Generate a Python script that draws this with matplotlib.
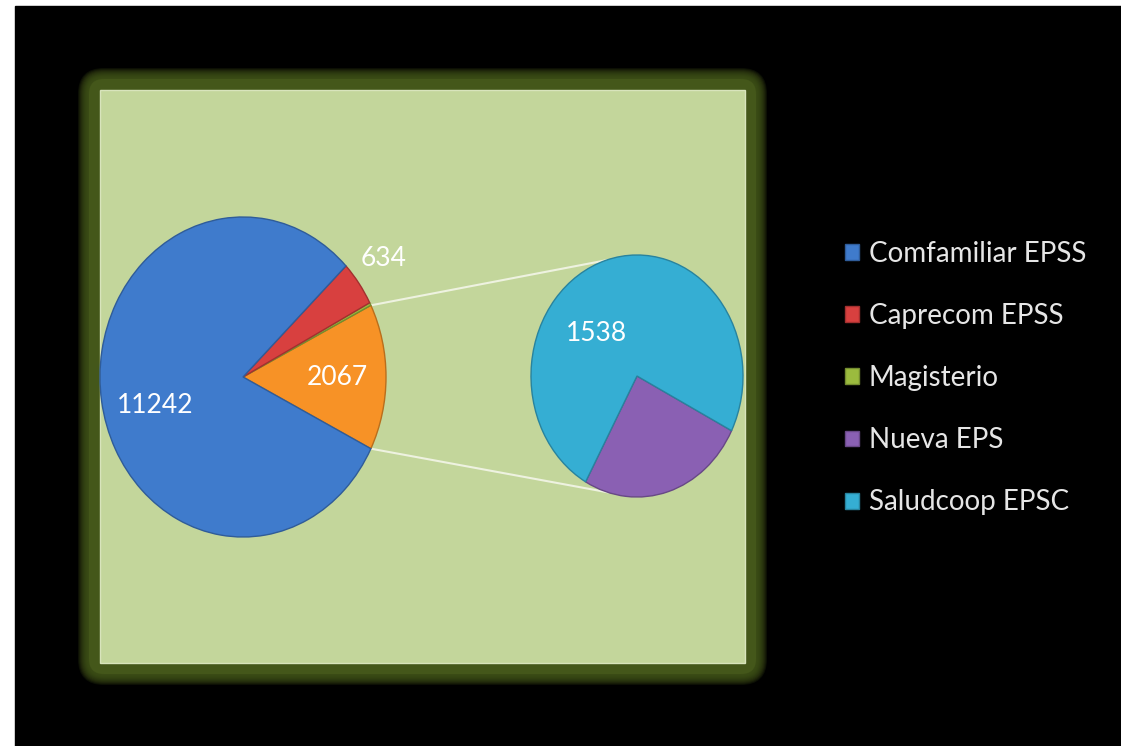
import numpy as np
import matplotlib.pyplot as plt
from matplotlib.patches import FancyBboxPatch, Rectangle, Patch

# data
main_labels = ["Comfamiliar EPSS", "Caprecom EPSS", "Magisterio"]
main_values = [11242, 634, 40]
sub_labels = ["Nueva EPS", "Saludcoop EPSC"]
sub_values = [529, 1538]
other_value = sum(sub_values)  # 2067

colors = {
    "Comfamiliar EPSS": "#3f7bcc",
    "Caprecom EPSS": "#d8403f",
    "Magisterio": "#9bbb3e",
    "Nueva EPS": "#8a60b3",
    "Saludcoop EPSC": "#35aed3",
    "other": "#f79226",
}
legend_order = ["Comfamiliar EPSS", "Caprecom EPSS", "Magisterio", "Nueva EPS", "Saludcoop EPSC"]

W, H = 1121, 746
fig = plt.figure(figsize=(W / 100, H / 100), dpi=100)
fig.patch.set_facecolor("white")

# background in pixel coordinates
bg = fig.add_axes([0, 0, 1, 1])
bg.set_xlim(0, W)
bg.set_ylim(H, 0)
bg.axis("off")
bg.add_patch(Rectangle((15, 6), W - 15, H - 6, color="black", zorder=0))

# olive glow around the plot area, fading outwards
px0, py0, px1, py1 = 100, 90, 745, 663
for i in range(22, 0, -1):
    a = 1.0 if i <= 11 else 0.18
    bg.add_patch(FancyBboxPatch((px0, py0), px1 - px0, py1 - py0,
                                boxstyle="round,pad=%d,rounding_size=%d" % (i, i + 4),
                                fc="#44571a", ec="none", alpha=a, zorder=1))
bg.add_patch(Rectangle((px0, py0), px1 - px0, py1 - py0, fc="#c3d69b",
                       ec="#d8e4bc", lw=1, zorder=2))


def pie_axes(cx, cy, rx, ry):
    ax = fig.add_axes([(cx - rx) / W, 1 - (cy + ry) / H, 2 * rx / W, 2 * ry / H])
    ax.set_zorder(3)
    return ax


def darker(c, f=0.75):
    r, g, b = plt.matplotlib.colors.to_rgb(c)
    return (r * f, g * f, b * f)


# main pie: "other" slice centred on 0 deg
mcx, mcy, mrx, mry = 243, 377, 143, 160
vals1 = [other_value] + main_values[::-1]
cols1 = [colors["other"]] + [colors[l] for l in main_labels[::-1]]
total1 = sum(vals1)
other_span = other_value / total1 * 360
start1 = -other_span / 2
ax1 = pie_axes(mcx, mcy, mrx, mry)
w1, _ = ax1.pie(vals1, colors=cols1, startangle=start1, counterclock=True)
for w, c in zip(w1, cols1):
    w.set_edgecolor(darker(c))
    w.set_linewidth(1)
ax1.set_xlim(-1, 1)
ax1.set_ylim(-1, 1)
ax1.set_aspect("auto")

# secondary pie
scx, scy, srx, sry = 637, 376, 106, 121
cols2 = [colors[l] for l in sub_labels]
ax2 = pie_axes(scx, scy, srx, sry)
w2, _ = ax2.pie(sub_values, colors=cols2, startangle=-119, counterclock=True)
for w, c in zip(w2, cols2):
    w.set_edgecolor(darker(c))
    w.set_linewidth(1)
ax2.set_xlim(-1, 1)
ax2.set_ylim(-1, 1)
ax2.set_aspect("auto")

# connector lines from the "other" slice edges to the secondary pie
for a1, a2 in [(start1 + other_span, 107), (start1, -106)]:
    x0 = mcx + mrx * np.cos(np.radians(a1))
    y0 = mcy - mry * np.sin(np.radians(a1))
    x1 = scx + srx * np.cos(np.radians(a2))
    y1 = scy - sry * np.sin(np.radians(a2))
    bg.plot([x0, x1], [y0, y1], color="#eef2e0", lw=1.5, zorder=2.5)

# data labels (radius, angle) in pie units
font = "Lato"
lab_kw = dict(color="white", fontsize=19, family=font, ha="center", va="center")
ax1.text(0.64 * np.cos(np.radians(196)), 0.64 * np.sin(np.radians(196)),
         str(main_values[0]), **lab_kw)
ax1.text(0.66, 0.0, str(other_value), **lab_kw)
ax1.text(1.23 * np.cos(np.radians(37)), 1.23 * np.sin(np.radians(37)),
         str(main_values[1]), clip_on=False, **lab_kw)
ax2.text(0.52 * np.cos(np.radians(137)), 0.52 * np.sin(np.radians(137)),
         str(sub_values[1]), **lab_kw)

# legend
handles = [Patch(fc=colors[l], ec=darker(colors[l])) for l in legend_order]
leg = fig.legend(handles, legend_order, loc="upper left",
                 bbox_to_anchor=(845 / W, 1 - 241 / H), frameon=False,
                 prop=dict(family=font, size=20), labelcolor="#e6e6e6",
                 handlelength=0.5, handleheight=0.5, handletextpad=0.35,
                 labelspacing=1.3, borderaxespad=0, borderpad=0)

fig.savefig("out.png", dpi=100, facecolor="white")
